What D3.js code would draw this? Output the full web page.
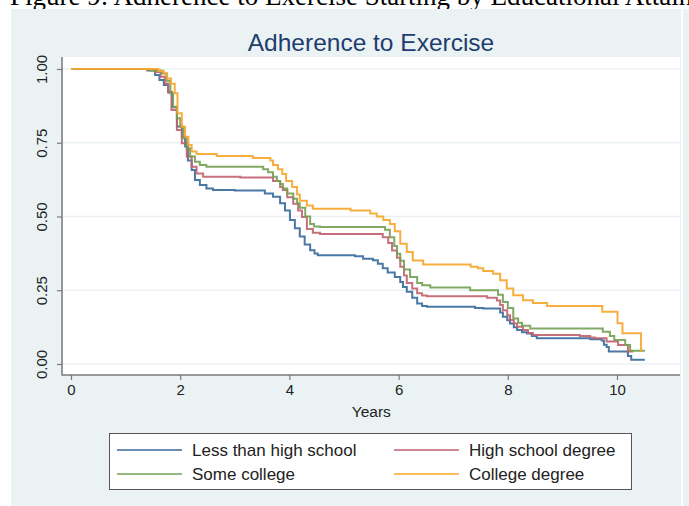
<!DOCTYPE html>
<html>
<head>
<meta charset="utf-8">
<script src="https://cdn.jsdelivr.net/npm/d3@7"></script>
<style>
  html, body { margin: 0; padding: 0; background: #ffffff; }
  svg { display: block; }
</style>
</head>
<body>
<svg id="chart" width="689" height="506"></svg>
<script>
// ---- Data ----
const seriesNames = ["Less than high school", "High school degree", "Some college", "College degree"];

const lessThanHS = [
  [0,1],[1.40,0.995],[1.54,0.98],[1.62,0.963],[1.70,0.946],[1.78,0.92],[1.85,0.87],[1.94,0.805],
  [2.03,0.77],[2.09,0.737],[2.14,0.69],[2.21,0.658],[2.27,0.624],[2.36,0.607],[2.48,0.595],[2.60,0.59],
  [3.00,0.588],[3.55,0.578],[3.70,0.567],[3.83,0.545],[3.92,0.52],[4.01,0.488],[4.10,0.46],[4.19,0.432],
  [4.28,0.405],[4.38,0.386],[4.46,0.375],[4.52,0.369],[5.20,0.365],[5.35,0.357],[5.53,0.352],[5.62,0.34],
  [5.71,0.325],[5.80,0.31],[5.93,0.295],[6.03,0.278],[6.08,0.261],[6.15,0.245],[6.25,0.225],[6.34,0.205],
  [6.43,0.197],[6.52,0.194],[7.40,0.19],[7.55,0.188],[7.86,0.175],[7.91,0.16],[7.99,0.148],[8.04,0.137],
  [8.11,0.125],[8.17,0.115],[8.26,0.108],[8.35,0.103],[8.44,0.095],[8.53,0.087],[9.51,0.084],[9.72,0.08],
  [9.76,0.065],[9.81,0.058],[9.85,0.042],[10.20,0.027],[10.26,0.014],[10.51,0.014]
];

const highSchool = [
  [0,1],[1.40,0.997],[1.55,0.99],[1.64,0.974],[1.72,0.951],[1.78,0.923],[1.84,0.861],[1.94,0.793],
  [2.03,0.748],[2.12,0.703],[2.21,0.669],[2.30,0.646],[2.42,0.635],[3.10,0.632],[3.70,0.62],[3.83,0.60],
  [3.88,0.59],[3.96,0.565],[4.07,0.543],[4.16,0.52],[4.23,0.498],[4.32,0.458],[4.43,0.445],[4.56,0.441],
  [5.71,0.43],[5.81,0.41],[5.88,0.385],[5.97,0.36],[6.03,0.33],[6.10,0.30],[6.15,0.275],[6.25,0.256],
  [6.34,0.24],[6.43,0.232],[6.52,0.23],[7.62,0.225],[7.80,0.215],[7.86,0.20],[7.91,0.182],[7.99,0.165],
  [8.04,0.149],[8.11,0.137],[8.17,0.126],[8.28,0.115],[8.37,0.105],[8.46,0.098],[9.32,0.095],[9.51,0.09],
  [9.60,0.087],[9.81,0.076],[10.02,0.064],[10.20,0.042],[10.30,0.042]
];

const someCollege = [
  [0,1],[1.45,0.995],[1.66,0.985],[1.75,0.96],[1.82,0.918],[1.87,0.872],[1.94,0.833],[2.00,0.804],
  [2.06,0.765],[2.12,0.731],[2.18,0.703],[2.27,0.686],[2.36,0.675],[2.48,0.669],[3.52,0.66],[3.61,0.65],
  [3.70,0.635],[3.77,0.62],[3.83,0.61],[3.88,0.595],[3.96,0.578],[4.07,0.56],[4.14,0.545],[4.19,0.53],
  [4.29,0.50],[4.38,0.475],[4.45,0.466],[4.56,0.464],[5.75,0.455],[5.84,0.43],[5.92,0.40],[5.97,0.374],
  [6.03,0.35],[6.10,0.32],[6.21,0.295],[6.34,0.275],[6.43,0.267],[6.58,0.259],[7.31,0.25],[7.82,0.235],
  [7.91,0.21],[8.00,0.19],[8.10,0.154],[8.19,0.14],[8.26,0.13],[8.41,0.12],[9.74,0.109],[9.87,0.095],
  [9.95,0.081],[10.15,0.064],[10.24,0.045],[10.51,0.045]
];

const collegeDegree = [
  [0,1],[1.60,0.993],[1.70,0.985],[1.76,0.968],[1.83,0.95],[1.90,0.918],[1.95,0.85],[2.03,0.804],
  [2.09,0.77],[2.15,0.742],[2.21,0.72],[2.30,0.712],[2.67,0.705],[3.33,0.698],[3.65,0.69],[3.70,0.675],
  [3.79,0.66],[3.87,0.644],[3.94,0.62],[4.05,0.60],[4.14,0.575],[4.19,0.553],[4.32,0.537],[4.43,0.526],
  [5.12,0.52],[5.48,0.51],[5.60,0.50],[5.72,0.488],[5.84,0.475],[5.93,0.45],[6.03,0.408],[6.15,0.38],
  [6.26,0.351],[6.45,0.337],[7.32,0.33],[7.45,0.325],[7.55,0.315],[7.73,0.306],[7.86,0.284],[7.98,0.256],
  [8.10,0.233],[8.28,0.216],[8.46,0.207],[8.72,0.197],[9.73,0.177],[10.01,0.138],[10.10,0.104],[10.44,0.045],
  [10.45,0.045]
];

const xTicks = [0, 2, 4, 6, 8, 10];
const yTicks = [0, 0.25, 0.5, 0.75, 1];
const yTickLabels = ["0.00", "0.25", "0.50", "0.75", "1.00"];

const seriesData = [lessThanHS, highSchool, someCollege, collegeDegree];
const colors = ["#35699a", "#c0606d", "#74a052", "#f7a52a"];

// ---- Layout ----
const svg = d3.select("#chart");
const plot = { left: 63, right: 680, top: 57, bottom: 375 };

const x = d3.scaleLinear().domain([0, 10]).range([71, 617]);
const y = d3.scaleLinear().domain([0, 1]).range([364, 69]);

// caption (cut off at the top edge, as in the reference)
svg.append("text")
  .attr("x", 10).attr("y", 5)
  .attr("font-family", "'Liberation Serif', 'Times New Roman', serif")
  .attr("font-size", 27).attr("fill", "#000")
  .text("Figure 9:  Adherence to Exercise Starting by Educational Attainment");

// outer panel
svg.append("rect").attr("x", 11).attr("y", 9).attr("width", 670).attr("height", 497).attr("fill", "#eaf2f3");
svg.append("rect").attr("x", 683).attr("y", 9).attr("width", 6).attr("height", 497).attr("fill", "#eaf2f3");

// title
svg.append("text")
  .attr("x", 371).attr("y", 51)
  .attr("text-anchor", "middle")
  .attr("font-family", "'Liberation Sans', Arial, sans-serif")
  .attr("font-size", 24.5).attr("fill", "#1e3d6e")
  .text("Adherence to Exercise");

// plot region
svg.append("rect")
  .attr("x", plot.left).attr("y", plot.top)
  .attr("width", plot.right - plot.left).attr("height", plot.bottom - plot.top)
  .attr("fill", "#ffffff");

// gridlines
svg.append("g").selectAll("line").data(yTicks).join("line")
  .attr("x1", plot.left).attr("x2", plot.right)
  .attr("y1", d => y(d)).attr("y2", d => y(d))
  .attr("stroke", "#eaf1f1").attr("stroke-width", 1.5);

// axes
const yAxis = d3.axisLeft(y).tickValues(yTicks).tickFormat((d, i) => yTickLabels[i]).tickSize(5);
const gy = svg.append("g").attr("transform", `translate(${plot.left - 1},0)`).call(yAxis);
gy.select(".domain").remove();
gy.selectAll(".tick line").attr("stroke", "#7a7a7a").attr("stroke-width", 1.2);
gy.selectAll(".tick text")
  .attr("font-family", "'Liberation Sans', Arial, sans-serif")
  .attr("font-size", 15).attr("fill", "#222")
  .attr("x", 0).attr("y", 0).attr("dy", "0.35em")
  .attr("text-anchor", "middle")
  .attr("transform", "translate(-20,0) rotate(-90)");

const xAxis = d3.axisBottom(x).tickValues(xTicks).tickFormat(d3.format("d")).tickSize(5).tickPadding(4);
const gx = svg.append("g").attr("transform", `translate(0,${plot.bottom})`).call(xAxis);
gx.select(".domain").remove();
gx.selectAll(".tick line").attr("stroke", "#7a7a7a").attr("stroke-width", 1.2);
gx.selectAll(".tick text")
  .attr("font-family", "'Liberation Sans', Arial, sans-serif")
  .attr("font-size", 15).attr("fill", "#222");

// axis lines
svg.append("line").attr("x1", plot.left - 1).attr("x2", plot.left - 1)
  .attr("y1", plot.top).attr("y2", plot.bottom + 0.5)
  .attr("stroke", "#7a7a7a").attr("stroke-width", 1.5);
svg.append("line").attr("x1", plot.left - 1).attr("x2", plot.right)
  .attr("y1", plot.bottom).attr("y2", plot.bottom)
  .attr("stroke", "#7a7a7a").attr("stroke-width", 1.5);

// x axis title
svg.append("text")
  .attr("x", x(5.5)).attr("y", 417)
  .attr("text-anchor", "middle")
  .attr("font-family", "'Liberation Sans', Arial, sans-serif")
  .attr("font-size", 15.5).attr("fill", "#222")
  .text("Years");

// step curves
const line = d3.line().x(d => x(d[0])).y(d => y(d[1])).curve(d3.curveStepAfter);
svg.append("g").selectAll("path").data(seriesData).join("path")
  .attr("d", d => line(d))
  .attr("fill", "none")
  .attr("stroke", (d, i) => colors[i])
  .attr("stroke-width", 2)
  .attr("stroke-opacity", 0.9);

// legend
const legend = svg.append("g");
legend.append("rect").attr("x", 109.5).attr("y", 433.5).attr("width", 522).attr("height", 56)
  .attr("fill", "#ffffff").attr("stroke", "#555").attr("stroke-width", 1);
const legPos = [[117, 450], [394, 450], [117, 474], [394, 474]];
seriesNames.forEach((name, i) => {
  const [lx, ly] = legPos[i];
  legend.append("line").attr("x1", lx).attr("x2", lx + 65).attr("y1", ly).attr("y2", ly)
    .attr("stroke", colors[i]).attr("stroke-width", 2).attr("stroke-opacity", 0.75);
  legend.append("text").attr("x", lx + 75).attr("y", ly + 6)
    .attr("font-family", "'Liberation Sans', Arial, sans-serif")
    .attr("font-size", 17).attr("fill", "#222")
    .text(name);
});
</script>
</body>
</html>
